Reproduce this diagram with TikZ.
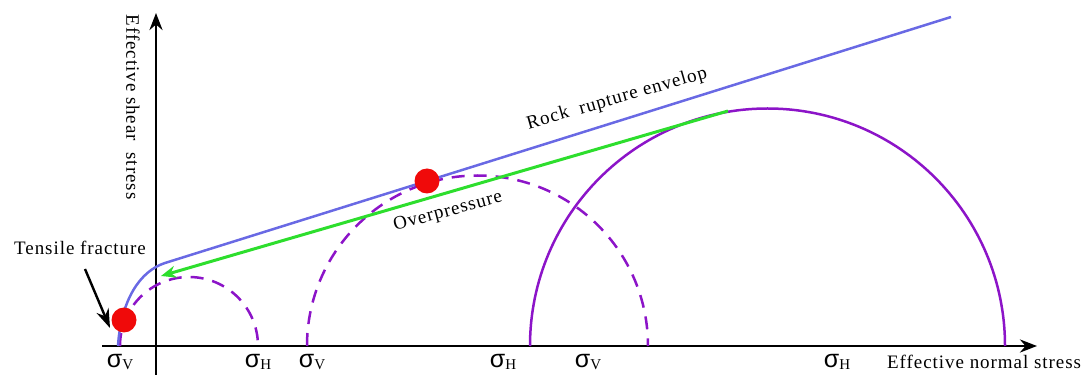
\documentclass[tikz,border=0pt]{standalone}
\usepackage{fontspec}
\setmainfont{Liberation Serif}
\newfontfamily\sigfont{Liberation Sans}
\newfontfamily\labfont[LetterSpace=5]{Liberation Serif}
\usepackage{tikz}
\usetikzlibrary{positioning}
\usetikzlibrary{calc}
\usetikzlibrary{arrows.meta}

\definecolor{envblue}{RGB}{105,105,228}
\definecolor{mohr}{RGB}{140,20,200}
\definecolor{opgreen}{RGB}{45,222,45}
\definecolor{dotred}{RGB}{240,10,10}

% sigma label with serif subscript
\newcommand{\sig}[1]{{\sigfont\fontsize{25}{25}\selectfont σ}\raisebox{-2pt}{\fontsize{15}{15}\selectfont #1}}

\begin{document}
\begin{tikzpicture}[x=1pt,y=1pt,
    axis/.style={line width=2.8pt, -{Stealth[length=17pt,width=13pt]}},
    lab/.style={font=\labfont\fontsize{19}{19}\selectfont, inner sep=0pt},
    siglab/.style={inner sep=0pt},
    envelope/.style={envblue, line width=2.5pt},
    circdash/.style={mohr, line width=2.5pt, dash pattern=on 13pt off 9pt},
    circfull/.style={mohr, line width=2.5pt},
    overp/.style={opgreen, line width=3pt, -{Stealth[length=15pt,width=12pt]}},
    dot/.style={circle, fill=dotred, minimum size=25pt, inner sep=0pt}]
    \useasboundingbox (0,0) rectangle (1085,375);

    % axes
    \coordinate (xs) at (102,29);
    \coordinate (xe) at (1037,29);
    \coordinate (ys) at (156,0);
    \coordinate (ye) at (156,362);
    \draw[axis] (xs) -- (xe);
    \draw[axis] (ys) -- (ye);
    \node[lab, rotate=-90] (ylab) at (133,268) {Effective shear\ \ stress};
    \node[lab, anchor=west] (xlab) at (887,13) {Effective normal stress};

    % Mohr circles
    \draw[circdash] (120,29) arc[start angle=180, end angle=0, radius=69pt];
    \draw[circdash] (307,29) arc[start angle=180, end angle=0, radius=170.5pt];
    \draw[circfull] (530,29) arc[start angle=180, end angle=0, radius=237.5pt];

    % rupture envelope
    \coordinate (e0) at (118,29);
    \coordinate (e1) at (165,112);
    \coordinate (e2) at (951,358);
    \draw[envelope] (e0) .. controls (121,75) and (140,104) .. (e1) -- (e2);
    \node[lab, rotate=16] (env) at (617,276) {Rock\ \ rupture envelop};

    % overpressure shift
    \coordinate (g0) at (728,264);
    \coordinate (g1) at (161,99);
    \draw[overp] (g0) -- (g1);
    \node[lab, rotate=15] (over) at (448,163) {Overpressure};

    % critical points
    \node[dot] (d1) at (124,55) {};
    \node[dot] (d2) at (427,194) {};

    % tensile fracture
    \node[lab] (tens) at (80,127) {Tensile fracture};
    \coordinate (t0) at (85,106);
    \coordinate (t1) at (110,47);
    \draw[line width=2.4pt, -{Stealth[length=19pt,width=13pt]}] (t0) -- (t1);

    % stress labels
    \node[siglab] (sv1) at (120,13) {\sig{V}};
    \node[siglab] (sh1) at (258,13) {\sig{H}};
    \node[siglab] (sv2) at (312,13) {\sig{V}};
    \node[siglab] (sh2) at (503,13) {\sig{H}};
    \node[siglab] (sv3) at (588,13) {\sig{V}};
    \node[siglab] (sh3) at (837,13) {\sig{H}};
\end{tikzpicture}
\end{document}
